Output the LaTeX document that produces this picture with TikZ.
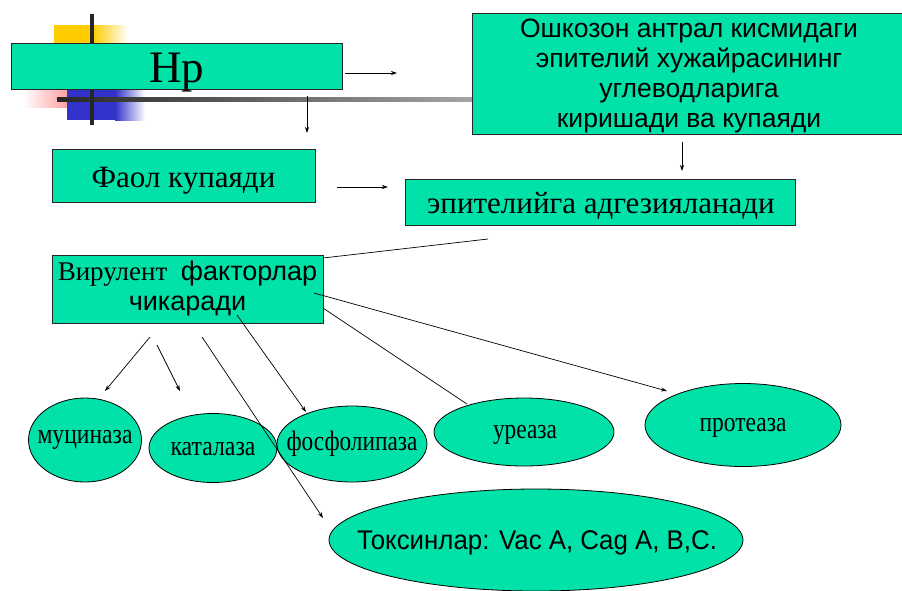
\documentclass[tikz,border=0pt]{standalone}
\usepackage{fontspec}
\setmainfont{Liberation Serif}
\setsansfont{Liberation Sans}
\usetikzlibrary{arrows.meta,shapes.geometric}
\definecolor{tealfill}{HTML}{00E2A8}
\definecolor{decoyellow}{HTML}{FFCC00}
\definecolor{decoblue}{HTML}{3333CC}
\definecolor{decored}{HTML}{FF8080}
\newcommand\fitw[2]{\resizebox{#1}{\height}{#2}}
\newcommand\fs[1]{\fontsize{#1}{#1}\selectfont}
\tikzset{
  box/.style={draw=black!85, line width=0.9pt, fill=tealfill, inner sep=0pt, align=center},
  oval/.style={ellipse, draw=black, line width=0.8pt, fill=tealfill, inner sep=0pt},
  lbl/.style={inner sep=0pt},
  arr/.style={-{Stealth[length=6pt,width=4pt]}, line width=0.7pt},
  ln/.style={line width=0.7pt},
}
\begin{document}
\begin{tikzpicture}[x=1pt,y=-1pt]
\useasboundingbox (0,0) rectangle (902,590);
% decoration
\fill[decoyellow] (54,25) rectangle (93,45);
\shade[left color=decoyellow,right color=white] (93,25) rectangle (128,45);
\shade[left color=white,right color=decored] (23,89) rectangle (83,107);
\fill[decoblue] (67,89) rectangle (115,120);
\shade[left color=decoblue,right color=white] (115,89) rectangle (145,120);
\shade[left color=black!85,right color=black!35] (57,97) rectangle (475,101);
\fill[black!85] (90,14) rectangle (94,125);
% nodes
\node[box, minimum width=331pt, minimum height=46pt] (hp) at (176.5,66) {};
\node[lbl, anchor=base] (hpt) at (176.5,82) {\fs{45}Hp};
\node[box, minimum width=430pt, minimum height=121pt] (top) at (687,73.5) {};
\node[lbl, align=center, font=\sffamily\fontsize{26.5}{30}\selectfont] (topt) at (689,76)
  {Ошкозон антрал кисмидаги\\ эпителий хужайрасининг\\ углеводларига\\ киришади ва купаяди};
\node[box, minimum width=263pt, minimum height=53pt] (faol) at (183.5,175.5) {};
\node[lbl, anchor=base] (faolt) at (183.5,187) {\fs{31}Фаол купаяди};
\node[box, minimum width=390pt, minimum height=46pt] (epi) at (600,202) {};
\node[lbl, anchor=base] (epit) at (601,213) {\fs{31}эпителийга адгезияланади};
\node[box, minimum width=271pt, minimum height=68pt, font=\fontsize{27}{30}\selectfont] (vir) at (187.5,289)
  {Вирулент \ {\sffamily факторлар}\\ {\sffamily чикаради}};
\node[oval, minimum width=113pt, minimum height=84pt] (muc) at (85,440) {};
\node[lbl] (muct) at (85,440) {\fitw{95pt}{\fs{28}муциназа}};
\node[oval, minimum width=128pt, minimum height=69pt] (kat) at (213,448) {};
\node[lbl] (katt) at (213,449) {\fitw{85pt}{\fs{28}каталаза}};
\node[oval, minimum width=150pt, minimum height=76pt] (fos) at (352,444) {};
\node[lbl] (fost) at (352,444) {\fitw{131pt}{\fs{28}фосфолипаза}};
\node[oval, minimum width=180pt, minimum height=68pt] (ure) at (524,432) {};
\node[lbl] (uret) at (525,435) {\fitw{64pt}{\fs{28}уреаза}};
\node[oval, minimum width=196pt, minimum height=83pt] (pro) at (743,425) {};
\node[lbl] (prot) at (743,428) {\fitw{87pt}{\fs{28}протеаза}};
\node[oval, minimum width=414pt, minimum height=102pt] (tox) at (536,540) {};
\node[lbl] (toxt) at (537,543) {\fitw{360pt}{\sffamily\fs{27}Токсинлар: Vac A, Cag A, B,C.}};
% connector coordinates
\coordinate (a1s) at (345,73);  \coordinate (a1e) at (397,73);
\coordinate (a2s) at (307,96);  \coordinate (a2e) at (307,133);
\coordinate (a3s) at (682,142); \coordinate (a3e) at (682,171);
\coordinate (a4s) at (337,187); \coordinate (a4e) at (388,187);
\coordinate (l1s) at (488,239); \coordinate (l1e) at (323,258);
\coordinate (m1s) at (150,337); \coordinate (m1e) at (105,391);
\coordinate (m2s) at (157,345); \coordinate (m2e) at (180,391);
\coordinate (m3s) at (202,337); \coordinate (m3e) at (323,518);
\coordinate (m4s) at (237,315); \coordinate (m4e) at (306,412);
\coordinate (m5s) at (323,308); \coordinate (m5e) at (467,404);
\coordinate (m6s) at (314,293); \coordinate (m6e) at (667,391);
% connectors
\draw[arr] (a1s) -- (a1e);
\draw[arr] (a2s) -- (a2e);
\draw[arr] (a3s) -- (a3e);
\draw[arr] (a4s) -- (a4e);
\draw[ln] (l1s) -- (l1e);
\draw[arr] (m1s) -- (m1e);
\draw[arr] (m2s) -- (m2e);
\draw[arr] (m3s) -- (m3e);
\draw[arr] (m4s) -- (m4e);
\draw[ln] (m5s) -- (m5e);
\draw[arr] (m6s) -- (m6e);
\end{tikzpicture}
\end{document}
